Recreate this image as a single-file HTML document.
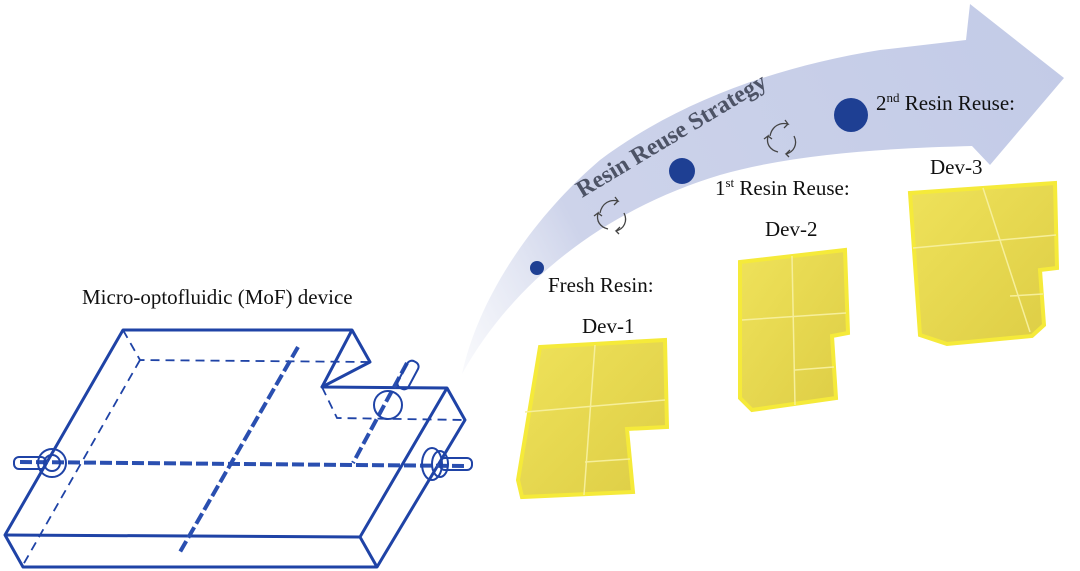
<!DOCTYPE html>
<html><head><meta charset="utf-8"><style>
html,body{margin:0;padding:0;background:#fff;}
svg{display:block;}
text{font-family:"Liberation Serif",serif;fill:#111;}
</style></head><body>
<svg width="1080" height="571" viewBox="0 0 1080 571" xmlns="http://www.w3.org/2000/svg">
<defs>
<linearGradient id="ag" x1="460" y1="370" x2="1060" y2="60" gradientUnits="userSpaceOnUse">
<stop offset="0" stop-color="#dfe3f1" stop-opacity="0.2"/>
<stop offset="0.25" stop-color="#cdd3ea"/>
<stop offset="1" stop-color="#c3cbe7"/>
</linearGradient>
<linearGradient id="yg" x1="0" y1="0" x2="1" y2="1">
<stop offset="0" stop-color="#efe25a"/>
<stop offset="1" stop-color="#ddcd45"/>
</linearGradient>
</defs>
<path d="M462,374 C478,300 530,220 600,160 C680,100 780,66 880,50 L966,40 L970,4 L1064,78 L990,165 L972,146 C900,148 800,152 720,175 C620,205 520,270 462,374 Z" fill="url(#ag)"/>
<text x="0" y="0" font-size="24" font-weight="bold" transform="translate(582,198) rotate(-31)" style="fill:#4d5366">Resin Reuse Strategy</text>
<circle cx="537" cy="268" r="7" fill="#1e3f93"/>
<circle cx="682" cy="171" r="13" fill="#1e3f93"/>
<circle cx="851" cy="115" r="17" fill="#1e3f93"/>
<g fill="none" stroke="#444" stroke-width="1.3">
<g transform="translate(612,215)"><path d="M-12,-2 C-10,-12 -2,-16 6,-14 L3,-18 M6,-14 L2,-10 M12,-2 C16,6 12,14 4,16 L7,19 M4,16 L8,12 M-4,14 C-12,12 -16,6 -14,-2 L-18,1 M-14,-2 L-10,1"/></g>
<g transform="translate(782,138)"><path d="M-12,-2 C-10,-12 -2,-16 6,-14 L3,-18 M6,-14 L2,-10 M12,-2 C16,6 12,14 4,16 L7,19 M4,16 L8,12 M-4,14 C-12,12 -16,6 -14,-2 L-18,1 M-14,-2 L-10,1"/></g>
</g>
<text x="548" y="292" font-size="21">Fresh Resin:</text>
<text x="582" y="333" font-size="21">Dev-1</text>
<text x="715" y="195" font-size="21">1<tspan font-size="13" dy="-8">st</tspan><tspan dy="8"> Resin Reuse:</tspan></text>
<text x="765" y="236" font-size="21">Dev-2</text>
<text x="876" y="110" font-size="21">2<tspan font-size="13" dy="-8">nd</tspan><tspan dy="8"> Resin Reuse:</tspan></text>
<text x="930" y="174" font-size="21">Dev-3</text>
<text x="82" y="304" font-size="21">Micro-optofluidic (MoF) device</text>
<g stroke="#f5ea3a" stroke-width="4" fill="url(#yg)">
<path d="M540,347 L665,340 L667,427 L627,429 L633,492 L522,497 L518,480 Z"/>
<path d="M740,262 L845,250 L848,333 L832,336 L836,398 L752,410 L740,398 Z"/>
<path d="M910,193 L1055,183 L1057,268 L1040,270 L1044,325 L1032,336 L947,344 L920,335 Z"/>
</g>
<g stroke="#f6ef9a" stroke-width="1.5" fill="none">
<path d="M595,345 L584,495 M525,412 L665,400 M585,462 L630,459"/>
<path d="M792,256 L795,405 M742,320 L846,313 M795,370 L834,367"/>
<path d="M983,188 L1030,332 M913,248 L1056,235 M1010,296 L1043,294"/>
</g>
<g fill="none" stroke="#1f43a6" stroke-width="3" stroke-linejoin="round">
<path d="M123,330 L352,330 L370,362 L322,387 L447,388 L465,420 L377,567 L23,567 L5,535 Z"/>
<path d="M352,330 L322,387 M5,535 L360,537 L447,388 M360,537 L377,567"/>
</g>
<g fill="none" stroke="#1f43a6" stroke-width="1.8" stroke-dasharray="9 6">
<path d="M123,330 L140,360 L370,362 M140,360 L23,565 M322,387 L337,418 L465,420"/>
</g>
<g fill="none" stroke="#2a4fb0" stroke-width="4" stroke-dasharray="12 4">
<path d="M20,462 L468,466"/>
<path d="M298,347 L180,552"/>
<path d="M407,363 L353,463"/>
</g>
<g fill="none" stroke="#1f43a6" stroke-width="2">
<rect x="14" y="457" width="32" height="12" rx="5"/>
<circle cx="52" cy="463" r="14"/>
<circle cx="52" cy="463" r="8"/>
<rect x="440" y="458" width="32" height="12" rx="5"/>
<ellipse cx="432" cy="464" rx="10" ry="16"/>
<ellipse cx="440" cy="464" rx="8" ry="13"/>
<circle cx="388" cy="405" r="14"/>
<rect x="402" y="360" width="12" height="30" rx="5" transform="rotate(28 408 375)"/>
</g>
</svg>
</body></html>
